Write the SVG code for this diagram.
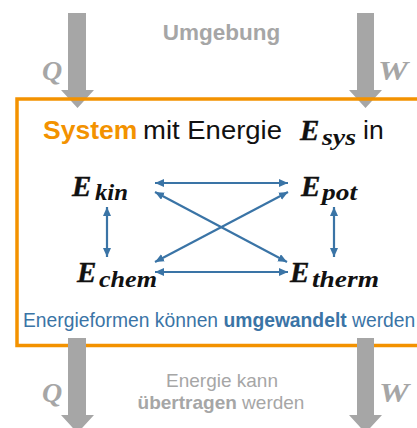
<svg xmlns="http://www.w3.org/2000/svg" width="417" height="428" viewBox="0 0 417 428">
<style>
.sans{font-family:"Liberation Sans",Arial,sans-serif}
.math{font-family:"Liberation Serif","Times New Roman",serif;font-style:italic;font-weight:bold}
.gray{fill:#a6a6a6}
.blue{fill:#3a74a6}
.conn{stroke:#3a74a6;stroke-width:2.2;fill:none;marker-start:url(#ah);marker-end:url(#ah)}
.garrow{fill:#a6a6a6}
</style>
<defs>
<marker id="ah" markerUnits="userSpaceOnUse" markerWidth="10" markerHeight="9" refX="9" refY="4" orient="auto-start-reverse">
<path d="M0,0 L9,4 L0,8 z" fill="#3a74a6"/>
</marker>
</defs>
<rect width="417" height="428" fill="#ffffff"/>
<g id="flow-in">
<path class="garrow" d="M68,13 H86 V90 H94 L77.5,108 L61,90 H68 Z"/>
<path class="garrow" d="M357,13 H374 V90 H382 L365.5,108 L349,90 H357 Z"/>
<text class="math gray" x="42" y="80" font-size="28">Q</text>
<text class="math gray" x="378" y="80" font-size="28" textLength="30" lengthAdjust="spacingAndGlyphs">W</text>
</g>
<text id="umgebung" class="sans gray" x="221.5" y="40" font-size="22.5" font-weight="bold" text-anchor="middle">Umgebung</text>
<g id="system">
<rect x="17" y="99" width="420" height="246.5" fill="none" stroke="#f39200" stroke-width="3.5"/>
<text class="sans" x="43" y="139" font-size="26.5"><tspan font-weight="bold" fill="#f39200">System</tspan><tspan x="143" fill="#111111" textLength="139" lengthAdjust="spacingAndGlyphs">mit Energie</tspan></text>
<text class="math" x="300" y="140" font-size="29" fill="#111" stroke="#111" stroke-width="0.4">E<tspan x="322" y="145" font-size="24" stroke-width="0" textLength="34" lengthAdjust="spacingAndGlyphs">sys</tspan></text>
<text class="sans" x="363" y="139" font-size="26.5" fill="#111111">in</text>
</g>
<g id="n-kin"><text class="math" x="72" y="196" font-size="29" fill="#111" stroke="#111" stroke-width="0.4">E<tspan x="95" y="200" font-size="24" stroke-width="0" textLength="33" lengthAdjust="spacingAndGlyphs">kin</tspan></text></g>
<g id="n-pot"><text class="math" x="301" y="196" font-size="29" fill="#111" stroke="#111" stroke-width="0.4">E<tspan x="322" y="200" font-size="24" stroke-width="0" textLength="35" lengthAdjust="spacingAndGlyphs">pot</tspan></text></g>
<g id="n-chem"><text class="math" x="77" y="282" font-size="29" fill="#111" stroke="#111" stroke-width="0.4">E<tspan x="99" y="287" font-size="24" stroke-width="0" textLength="58" lengthAdjust="spacingAndGlyphs">chem</tspan></text></g>
<g id="n-therm"><text class="math" x="290" y="282" font-size="29" fill="#111" stroke="#111" stroke-width="0.4">E<tspan x="312" y="287" font-size="24" stroke-width="0" textLength="67" lengthAdjust="spacingAndGlyphs">therm</tspan></text></g>
<g id="connectors">
<path class="conn" d="M155,183 H288"/>
<path class="conn" d="M155,272 H288"/>
<path class="conn" d="M155,192 L287,262"/>
<path class="conn" d="M288,192 L155,262"/>
<path class="conn" d="M107,207 V257"/>
<path class="conn" d="M334,207 V257"/>
</g>
<text id="umwandeln" class="sans blue" x="23" y="327" font-size="19.3">Energieformen können <tspan font-weight="bold">umgewandelt</tspan> werden</text>
<g id="flow-out">
<path class="garrow" d="M68,338 H86 V415 H94 L77.5,433 L61,415 H68 Z"/>
<path class="garrow" d="M357,338 H374 V415 H382 L365.5,433 L349,415 H357 Z"/>
<text class="math gray" x="42" y="402" font-size="28">Q</text>
<text class="math gray" x="379" y="402" font-size="28" textLength="30" lengthAdjust="spacingAndGlyphs">W</text>
</g>
<g id="uebertragen" class="sans gray" font-size="19" text-anchor="middle">
<text x="222" y="387">Energie kann</text>
<text x="221" y="409"><tspan font-weight="bold">übertragen</tspan> werden</text>
</g>
</svg>
